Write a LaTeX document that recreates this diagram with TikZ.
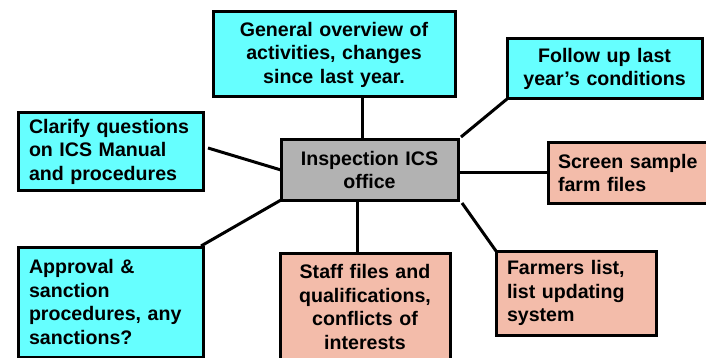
\documentclass[tikz,border=0pt]{standalone}
\usepackage{fontspec}
\setmainfont{Liberation Sans}
\definecolor{boxcyan}{RGB}{102,255,255}
\definecolor{boxsalmon}{RGB}{243,188,170}
\definecolor{boxgray}{RGB}{178,178,178}
\begin{document}
\begin{tikzpicture}[x=1pt,y=-1pt,
  card/.style={draw=black, line width=3pt, outer sep=0pt, inner sep=0pt,
    font=\bfseries\fontsize{19.6}{23.5}\selectfont, anchor=north west},
  link/.style={line width=3pt, draw=black}]
\useasboundingbox (0,0) rectangle (706,358);
% boxes: minimum size = outer rectangle, text set inside
\node[card, fill=boxcyan, minimum width=242pt, minimum height=85pt,
      text width=230pt, align=center] (overview) at (213,12)
  {General overview of\\activities, changes\\since last year.};
\node[card, fill=boxcyan, minimum width=195pt, minimum height=60pt,
      text width=185pt, align=center] (follow) at (507,39)
  {Follow up last\\year’s conditions};
\node[card, fill=boxcyan, minimum width=185pt, minimum height=77pt,
      text width=163pt, align=left] (clarify) at (18,113)
  {Clarify questions\\on ICS Manual\\and procedures};
\node[card, fill=boxgray, minimum width=177pt, minimum height=60pt,
      text width=165pt, align=center] (office) at (281,140)
  {Inspection ICS\\office};
\node[card, fill=boxsalmon, minimum width=160pt, minimum height=60pt,
      text width=140pt, align=left] (screen) at (548,143)
  {\mbox{Screen sample}\\farm files};
\node[card, fill=boxcyan, minimum width=185pt, minimum height=110pt,
      text width=163pt, align=left] (approval) at (18,247)
  {Approval \&\\sanction\\procedures, any\\sanctions?};
\node[card, fill=boxsalmon, minimum width=170pt, minimum height=108pt,
      text width=160pt, align=center] (staff) at (280,253)
  {Staff files and\\qualifications,\\conflicts of\\interests};
\node[card, fill=boxsalmon, minimum width=160pt, minimum height=84pt,
      text width=138pt, align=left] (farmers) at (496,251)
  {Farmers list,\\list updating\\system};
% connectors
\coordinate (oTop) at (362,140);
\coordinate (oTR) at (461,137);
\coordinate (oR) at (458,173);
\coordinate (oBR) at (462,203);
\coordinate (oB) at (357,200);
\coordinate (oBL) at (281,200);
\coordinate (oL) at (281,170);
\coordinate (ovB) at (362,97);
\coordinate (fBL) at (507,99);
\coordinate (sL) at (548,173);
\coordinate (faTL) at (496,251);
\coordinate (stT) at (357,253);
\coordinate (apTR) at (201,246);
\coordinate (clR) at (208,148);
\draw[link] (oTop) -- (ovB);
\draw[link] (oTR) -- (fBL);
\draw[link] (oR) -- (sL);
\draw[link] (oBR) -- (faTL);
\draw[link] (oB) -- (stT);
\draw[link] (oBL) -- (apTR);
\draw[link] (oL) -- (clR);
\end{tikzpicture}
\end{document}
